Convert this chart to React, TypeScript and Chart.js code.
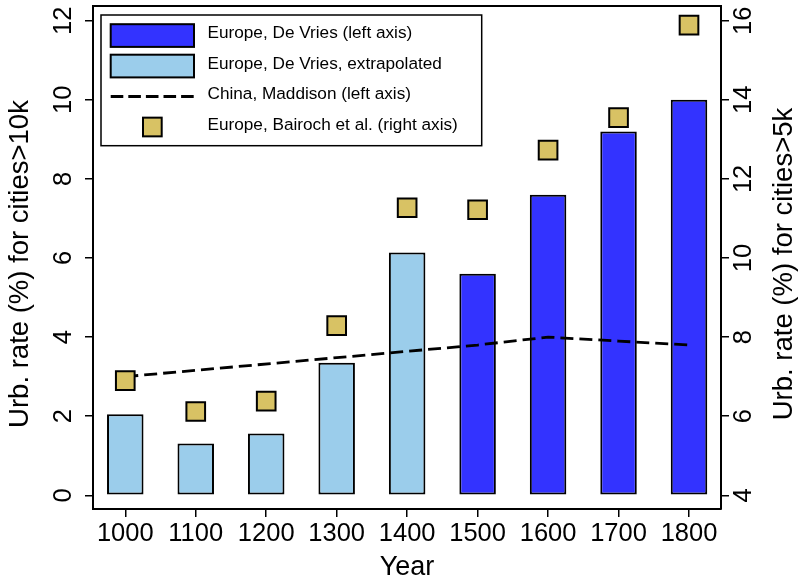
import React, { useEffect, useRef } from "react";
import { Chart, registerables } from "chart.js";

Chart.register(...registerables);

// ---- data ----
const years = [1000, 1100, 1200, 1300, 1400, 1500, 1600, 1700, 1800];
const deVries = [null, null, null, null, null, 5.6, 7.6, 9.2, 10.0];
const deVriesExtrapolated = [2.05, 1.31, 1.56, 3.35, 6.14, null, null, null, null];
const chinaYears = [1000, 1500, 1600, 1700, 1800];
const chinaMaddison = [3.0, 3.8, 4.0, 3.9, 3.8];
const bairoch = [6.9, 6.12, 6.38, 8.29, 11.27, 11.22, 12.73, 13.55, 15.89];
const leftTicks = [0, 2, 4, 6, 8, 10, 12];
const rightTicks = [4, 6, 8, 10, 12, 14, 16];

const labels = [
  "Europe, De Vries (left axis)",
  "Europe, De Vries, extrapolated",
  "China, Maddison (left axis)",
  "Europe, Bairoch et al. (right axis)",
];
const xTitle = "Year";
const leftTitle = "Urb. rate (%) for cities>10k";
const rightTitle = "Urb. rate (%) for cities>5k";

const BLUE = "#3333FF";
const LIGHT = "#9BCDEB";
const GOLD = "#D8C264";
const FONT = "'Liberation Sans', Arial, Helvetica, sans-serif";

const pts = (xs: number[], ys: (number | null)[]) =>
  xs.map((x, i) => ({ x, y: ys[i] })).filter((p) => p.y !== null);

const legendPlugin = {
  id: "boxLegend",
  afterDraw(chart: any) {
    const ctx = chart.ctx;
    const ca = chart.chartArea;
    const bx = ca.left + 8;
    const by = ca.top + 9;
    const bw = 380.7;
    const bh = 130.7;
    ctx.save();
    ctx.fillStyle = "#fff";
    ctx.fillRect(bx, by, bw, bh);
    ctx.lineWidth = 1.5;
    ctx.strokeStyle = "#000";
    ctx.strokeRect(bx, by, bw, bh);
    const x0 = bx + 9.7;
    const iw = 83.3;
    chart.data.datasets.forEach((ds: any, i: number) => {
      const cy = by + 20.5 + i * 30.5;
      ctx.save();
      if (ds.type === "bar") {
        ctx.fillStyle = ds.backgroundColor;
        ctx.fillRect(x0, cy - 11.3, iw, 22.7);
        ctx.lineWidth = 2;
        ctx.strokeStyle = "#000";
        ctx.strokeRect(x0, cy - 11.3, iw, 22.7);
      } else if (ds.type === "line") {
        ctx.strokeStyle = ds.borderColor;
        ctx.lineWidth = ds.borderWidth;
        ctx.setLineDash([12.6, 5]);
        ctx.beginPath();
        ctx.moveTo(x0, cy);
        ctx.lineTo(x0 + iw, cy);
        ctx.stroke();
      } else {
        const s = 18.7;
        ctx.fillStyle = ds.backgroundColor;
        ctx.fillRect(x0 + iw / 2 - s / 2, cy - s / 2, s, s);
        ctx.lineWidth = 2;
        ctx.strokeStyle = "#000";
        ctx.strokeRect(x0 + iw / 2 - s / 2, cy - s / 2, s, s);
      }
      ctx.restore();
      ctx.fillStyle = "#000";
      ctx.font = `17.2px ${FONT}`;
      ctx.textAlign = "left";
      ctx.textBaseline = "middle";
      ctx.fillText(ds.label, x0 + iw + 13.5, cy - 2);
    });
    ctx.restore();
  },
};

// vertical axis titles (both read bottom-to-top, as in the reference)
const axisTitlesPlugin = {
  id: "axisTitles",
  afterDraw(chart: any) {
    const ctx = chart.ctx;
    const ca = chart.chartArea;
    const cy = (ca.top + ca.bottom) / 2 + 6.5;
    const draw = (text: string, x: number) => {
      ctx.save();
      ctx.translate(x, cy);
      ctx.rotate(-Math.PI / 2);
      ctx.fillStyle = "#000";
      ctx.font = `27.5px ${FONT}`;
      ctx.textAlign = "center";
      ctx.textBaseline = "middle";
      ctx.fillText(text, 0, 0);
      ctx.restore();
    };
    draw(leftTitle, chart.scales.y.left + 20);
    draw(rightTitle, chart.scales.y2.right - 16.5);
  },
};

const axisGrid = {
  display: true,
  drawOnChartArea: false,
  drawTicks: true,
  tickLength: 8,
  color: "#000",
  lineWidth: 1.5,
  offset: false,
};
const axisBorder = { display: true, color: "#000", width: 2 };
const tickFont = { family: FONT, size: 25.5 };
const titleFont = { family: FONT, size: 27 };

const noPad = (s: any) => {
  s.paddingTop = 0;
  s.paddingBottom = 0;
  s.paddingLeft = 0;
  s.paddingRight = 0;
};

export default function App() {
  const ref = useRef<HTMLCanvasElement | null>(null);
  useEffect(() => {
    if (!ref.current) return;
    const barCommon = {
      type: "bar",
      borderColor: "#000",
      borderWidth: 2,
      borderSkipped: false,
      grouped: false,
      barPercentage: 0.9,
      categoryPercentage: 1,
      maxBarThickness: 36.5,
      xAxisID: "x",
      yAxisID: "y",
      order: 3,
    };
    const chart = new Chart(ref.current, {
      type: "bar",
      data: {
        datasets: [
          { ...barCommon, label: labels[0], data: pts(years, deVries), backgroundColor: BLUE },
          { ...barCommon, label: labels[1], data: pts(years, deVriesExtrapolated), backgroundColor: LIGHT },
          {
            type: "line",
            label: labels[2],
            data: pts(chinaYears, chinaMaddison),
            borderColor: "#000",
            backgroundColor: "#000",
            borderWidth: 2.8,
            borderDash: [13, 6],
            pointRadius: 0,
            fill: false,
            tension: 0,
            xAxisID: "x",
            yAxisID: "y",
            order: 2,
          },
          {
            type: "scatter",
            label: labels[3],
            data: pts(years, bairoch),
            pointStyle: "rect",
            pointRadius: 13.2,
            backgroundColor: GOLD,
            borderColor: "#000",
            borderWidth: 2,
            showLine: false,
            xAxisID: "x",
            yAxisID: "y2",
            order: 1,
          },
        ],
      } as any,
      options: {
        animation: false,
        responsive: false,
        maintainAspectRatio: false,
        layout: { padding: 0, autoPadding: false },
        plugins: {
          legend: { display: false },
          tooltip: { enabled: false },
        },
        scales: {
          x: {
            type: "linear",
            position: "bottom",
            offset: false,
            min: 954.2,
            max: 1845.4,
            afterBuildTicks: (s: any) => {
              s.ticks = years.map((v) => ({ value: v }));
            },
            ticks: {
              color: "#000",
              font: tickFont,
              padding: 2,
              autoSkip: false,
              maxRotation: 0,
              callback: (v: any) => String(v),
            },
            grid: axisGrid,
            border: axisBorder,
            title: {
              display: true,
              text: xTitle,
              color: "#000",
              font: titleFont,
              padding: { top: 0, bottom: 1 },
            },
            afterFit: (s: any) => {
              s.height = 76;
              noPad(s);
            },
          },
          xTop: {
            type: "linear",
            position: "top",
            display: true,
            offset: false,
            min: 0,
            max: 1,
            ticks: { display: false },
            grid: { display: false, drawTicks: false, offset: false },
            border: axisBorder,
            afterFit: (s: any) => {
              s.height = 6;
              noPad(s);
            },
          },
          y: {
            type: "linear",
            position: "left",
            min: -0.346,
            max: 12.372,
            afterBuildTicks: (s: any) => {
              s.ticks = leftTicks.map((v) => ({ value: v }));
            },
            ticks: {
              color: "#000",
              font: tickFont,
              minRotation: 90,
              maxRotation: 90,
              crossAlign: "center",
              padding: 7,
              callback: (v: any) => String(v),
            },
            grid: axisGrid,
            border: axisBorder,
            afterFit: (s: any) => {
              s.width = 93;
              noPad(s);
            },
          },
          y2: {
            type: "linear",
            position: "right",
            min: 3.654,
            max: 16.372,
            afterBuildTicks: (s: any) => {
              s.ticks = rightTicks.map((v) => ({ value: v }));
            },
            ticks: {
              color: "#000",
              font: tickFont,
              minRotation: 90,
              maxRotation: 90,
              crossAlign: "center",
              padding: 1,
              callback: (v: any) => String(v),
            },
            grid: axisGrid,
            border: axisBorder,
            afterFit: (s: any) => {
              s.width = 80;
              noPad(s);
            },
          },
        },
      } as any,
      plugins: [legendPlugin, axisTitlesPlugin],
    });
    return () => chart.destroy();
  }, []);

  return (
    <div style={{ position: "fixed", left: 0, top: 0, width: 801, height: 585, background: "#fff" }}>
      <canvas ref={ref} width={801} height={585} style={{ width: 801, height: 585, display: "block" }} />
    </div>
  );
}
